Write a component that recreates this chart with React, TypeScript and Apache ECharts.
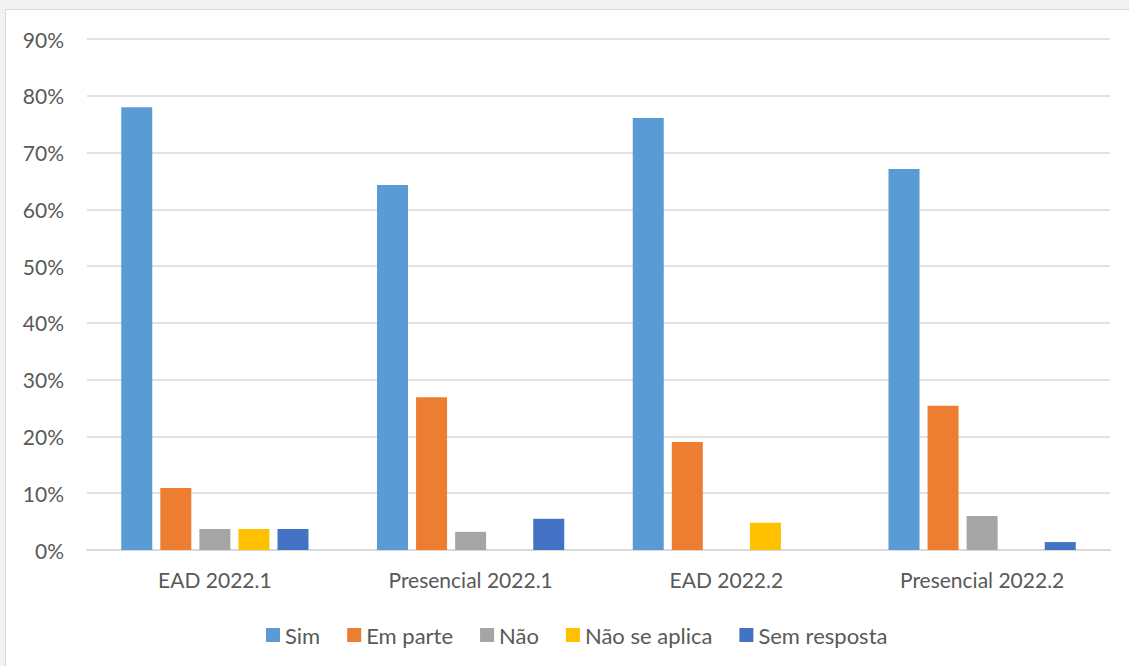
import React, { useEffect, useRef } from "react";
import * as echarts from "echarts";

const categories = ["EAD 2022.1", "Presencial 2022.1", "EAD 2022.2", "Presencial 2022.2"];
const seriesNames = ["Sim", "Em parte", "Não", "Não se aplica", "Sem resposta"];
const sim = [78.0, 64.3, 76.1, 67.1];
const emParte = [10.9, 26.9, 19.0, 25.4];
const nao = [3.7, 3.2, 0, 6.0];
const naoSeAplica = [3.7, 0, 4.8, 0];
const semResposta = [3.7, 5.5, 0, 1.4];
const colors = ["#5b9bd5", "#ed7d31", "#a5a5a5", "#ffc000", "#4472c4"];
const yTicks = [0, 10, 20, 30, 40, 50, 60, 70, 80, 90];

export default function App() {
  const ref = useRef<HTMLDivElement>(null);
  useEffect(() => {
    if (!ref.current) return;
    const chart = echarts.init(ref.current, null, { renderer: "svg" });
    const values = [sim, emParte, nao, naoSeAplica, semResposta];
    const font = "Lato, 'Liberation Sans', sans-serif";
    chart.setOption({
      animation: false,
      backgroundColor: "transparent",
      grid: { left: 87, right: 19, top: 39, bottom: 116, containLabel: false },
      legend: {
        data: seriesNames,
        top: 619,
        left: 261,
        icon: "rect",
        itemWidth: 14,
        itemHeight: 14,
        itemGap: 27,
        textStyle: { color: "#595959", fontSize: 22, fontFamily: font },
      },
      xAxis: {
        type: "category",
        data: categories,
        axisLine: { show: true, lineStyle: { color: "#d9d9d9", width: 2 } },
        axisTick: { show: false },
        axisLabel: { color: "#595959", fontSize: 21, fontFamily: font, margin: 19 },
      },
      yAxis: {
        type: "value",
        min: yTicks[0],
        max: yTicks[yTicks.length - 1],
        interval: 10,
        axisLine: { show: false },
        axisTick: { show: false },
        splitLine: { lineStyle: { color: "#d9d9d9", width: 1.5 } },
        axisLabel: {
          color: "#595959",
          fontSize: 21,
          fontFamily: font,
          margin: 23,
          formatter: "{value}%",
        },
      },
      series: seriesNames.map((name, i) => ({
        name,
        type: "bar",
        data: values[i],
        barWidth: 31,
        barGap: "26%",
        itemStyle: { color: colors[i] },
      })),
    });
    return () => chart.dispose();
  }, []);
  return (
    <div style={{ position: "fixed", left: 0, top: 0, width: 1129, height: 666, background: "#f2f2f2" }}>
      <div
        style={{
          position: "absolute",
          left: 5,
          top: 9,
          width: 1124,
          height: 657,
          background: "#ffffff",
          borderLeft: "1px solid #d9d9d9",
          borderTop: "1px solid #d9d9d9",
          boxSizing: "border-box",
        }}
      />
      <div ref={ref} style={{ position: "absolute", left: 0, top: 0, width: 1129, height: 666 }} />
    </div>
  );
}
